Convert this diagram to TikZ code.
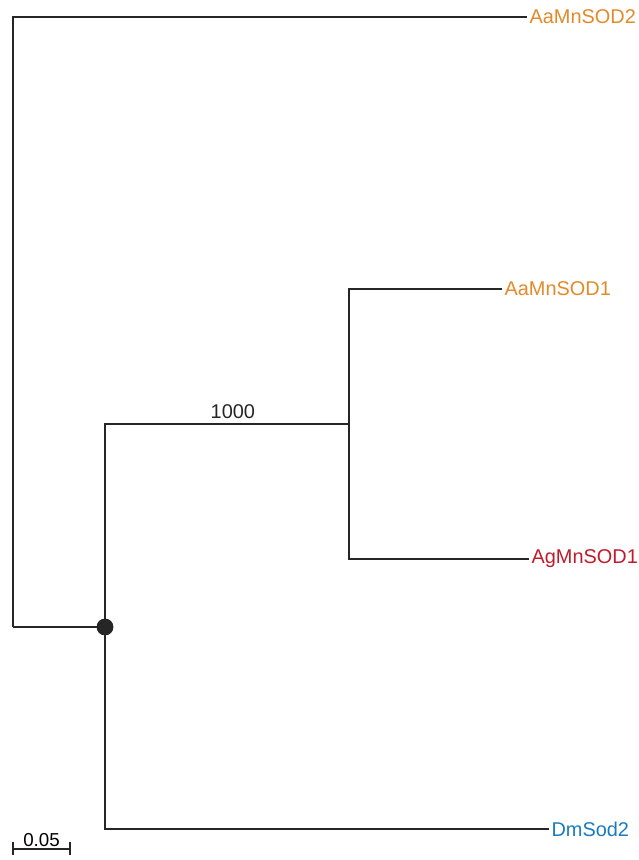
\documentclass[tikz,border=0pt]{standalone}
\usepackage{fontspec}
\setmainfont{Liberation Sans}
\usepackage{xcolor}
\usepackage{tikz}
\usetikzlibrary{calc}

\definecolor{aaorange}{RGB}{226,138,40}
\definecolor{agred}{RGB}{192,26,42}
\definecolor{dmblue}{RGB}{26,122,192}

\tikzset{
  leaf/.style={anchor=west, inner sep=2pt, font=\fontsize{17}{19}\selectfont},
  branch/.style={line width=1.7pt, black!85},
}

\begin{document}
\begin{tikzpicture}[x=0.03cm,y=-0.03cm]
\useasboundingbox (0,0) rectangle (639,860);
% internal nodes
\coordinate (root) at (13,627);
\coordinate (n1) at (105,627);
\coordinate (n2) at (349,424);
% leaves
\node[leaf, text=aaorange] (aa2) at (527,17) {AaMnSOD2};
\node[leaf, text=aaorange] (aa1) at (502,289) {AaMnSOD1};
\node[leaf, text=agred] (ag1) at (529,559) {AgMnSOD1};
\node[leaf, text=dmblue] (dm2) at (549,829) {DmSod2};
% branches
\draw[branch] (root) |- (aa2.west);
\draw[branch] (root) -- (n1);
\draw[branch] (n1) |- (n2) node[pos=0.75, above, xshift=5pt, font=\fontsize{17}{19}\selectfont] {1000};
\draw[branch] (n1) |- (dm2.west);
\draw[branch] (n2) |- (aa1.west);
\draw[branch] (n2) |- (ag1.west);
\fill[black!85] (n1) circle (7.2pt);
% scale bar
\coordinate (sbl) at (13,849);
\coordinate (sbr) at (70,849);
\draw[branch] (sbl) -- (sbr);
\draw[branch] ([yshift=6pt]sbl) -- ([yshift=-5pt]sbl);
\draw[branch] ([yshift=6pt]sbr) -- ([yshift=-5pt]sbr);
\node[above, inner sep=2pt, font=\fontsize{16}{18}\selectfont] (sblab) at ($(sbl)!0.5!(sbr)$) {0.05};
\end{tikzpicture}
\end{document}
